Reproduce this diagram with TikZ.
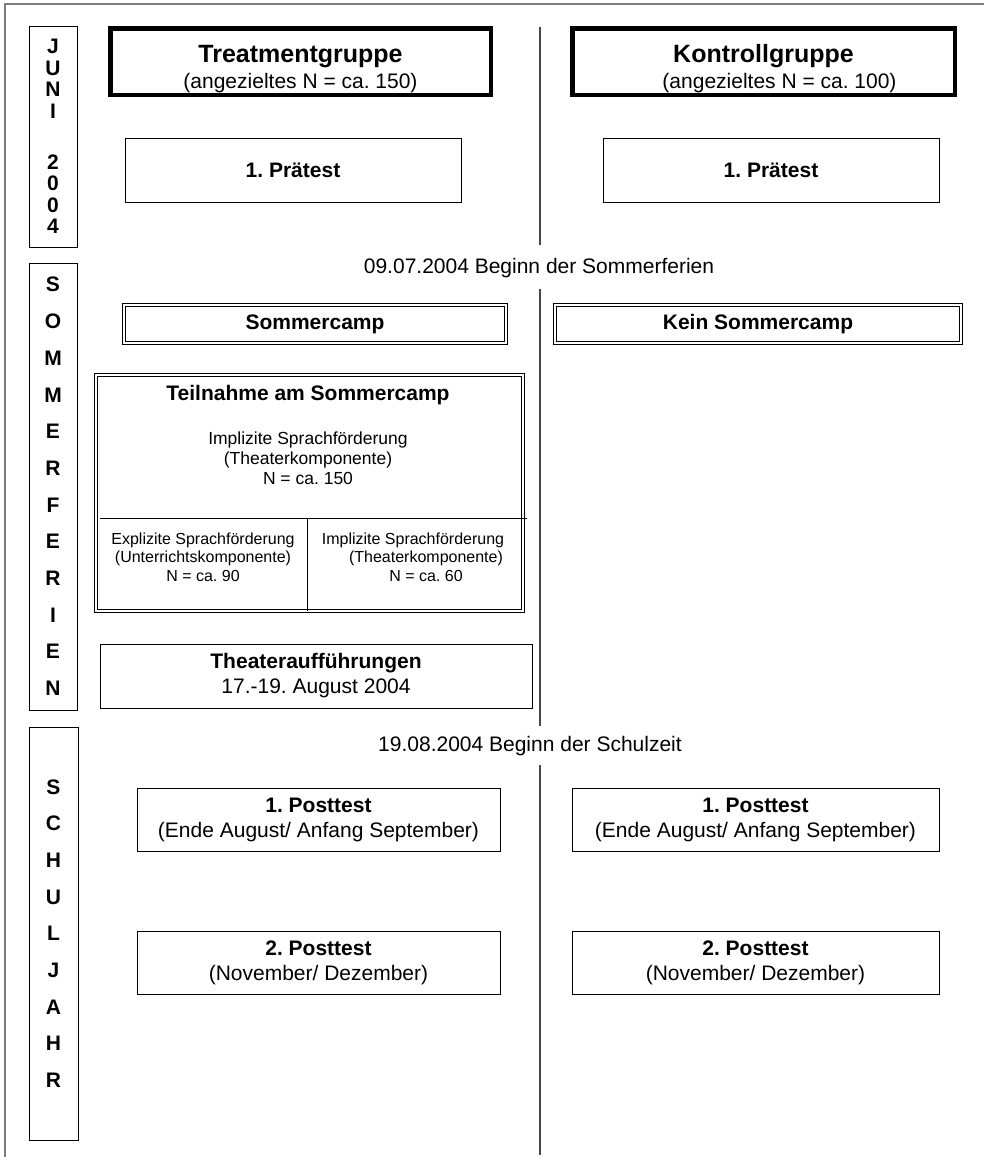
\documentclass[tikz,border=0pt]{standalone}
\usepackage{fontspec}
\setmainfont{Liberation Sans}

\begin{document}
\frenchspacing
\begin{tikzpicture}[x=1pt,y=1pt,yscale=-1,
    box/.style={draw, line width=1pt, inner sep=0pt, align=center, font=\fontsize{21}{25}\selectfont},
    thickbox/.style={box, line width=4.5pt},
    dblbox/.style={box, double, double distance=2pt, line width=0.8pt},
    monthbox/.style={box, font=\fontsize{21}{36.7}\selectfont\bfseries},
    plain/.style={inner sep=0pt, align=center, font=\fontsize{21}{25}\selectfont},
    small/.style={inner sep=0pt, align=center, font=\fontsize{17.5}{20}\selectfont},
    smaller/.style={inner sep=0pt, align=center, font=\fontsize{16}{18.5}\selectfont}]

\useasboundingbox (0,0) rectangle (984,1157);

% frame and middle line
\draw [color={rgb, 255:red, 125; green, 125; blue, 125}, line width=1.5] (5,1157) -- (5,4) -- (984,4);
\draw [color={rgb, 255:red, 70; green, 70; blue, 70}, line width=1.5] (540,27) -- (540,245);
\draw [color={rgb, 255:red, 70; green, 70; blue, 70}, line width=1.5] (540,289) -- (540,726);
\draw [color={rgb, 255:red, 70; green, 70; blue, 70}, line width=1.5] (540,765) -- (540,1155);

% time column
\node [monthbox, minimum width=48, minimum height=221, font=\fontsize{21}{21.5}\selectfont\bfseries] (juni) at (53,136.5) {J\\U\\N\\I\\[29.5pt]2\\0\\0\\4};
\node [monthbox, minimum width=48, minimum height=447] (ferien) at (53,486.5) {S\\O\\M\\M\\E\\R\\F\\E\\R\\I\\E\\N};
\node [monthbox, minimum width=49, minimum height=413] (schuljahr) at (53.5,933.5) {S\\C\\H\\U\\L\\J\\A\\H\\R};

% juni
\node [thickbox, minimum width=380.5, minimum height=66.5] (treat) at (300.5,61.5) {\rule{0pt}{32pt}{\fontsize{25}{27}\selectfont\bfseries Treatmentgruppe}\\[1pt](angezieltes N = ca. 150)};
\node [thickbox, minimum width=382.5, minimum height=66.5] (kontroll) at (763.5,61.5) {\rule{0pt}{32pt}{\fontsize{25}{27}\selectfont\bfseries Kontrollgruppe}\\[1pt]\hspace*{32pt}(angezieltes N = ca. 100)};
\node [box, minimum width=336, minimum height=64, font=\fontsize{21}{25}\selectfont\bfseries] (praetestT) at (293,170) {1. Prätest};
\node [box, minimum width=336, minimum height=64, font=\fontsize{21}{25}\selectfont\bfseries] (praetestK) at (771,170) {1. Prätest};

% sommerferien
\node [plain] (ferienstart) at (539,268) {09.07.2004 Beginn der Sommerferien};
\node [dblbox, minimum width=382.5, minimum height=38.5, font=\fontsize{21}{25}\selectfont\bfseries] (camp) at (315,324) {Sommercamp};
\node [dblbox, minimum width=406.5, minimum height=38.5, font=\fontsize{21}{25}\selectfont\bfseries] (keincamp) at (758,324) {Kein Sommercamp};
\node [dblbox, minimum width=427.5, minimum height=236.5] (teilnahme) at (309.5,493) {};
\node [plain, font=\fontsize{21}{25}\selectfont\bfseries] (teiltitel) at (308,395) {Teilnahme am Sommercamp};
\node [small] (teilgesamt) at (308,458) {Implizite Sprachförderung\\(Theaterkomponente)\\N = ca. 150};
\draw [line width=1pt] (100,518) -- (527,518);
\draw [line width=1pt] (307,518) -- (307,611);
\node [smaller] (explizit) at (203,557) {Explizite Sprachförderung\\(Unterrichtskomponente)\\N = ca. 90};
\node [smaller] (implizit) at (413,557) {Implizite Sprachförderung\\\hspace*{26pt}(Theaterkomponente)\\\hspace*{26pt}N = ca. 60};
\node [box, minimum width=432, minimum height=64] (auffuehrung) at (316,676) {{\bfseries Theateraufführungen}\\17.-19. August 2004};

% schuljahr
\node [plain] (schulstart) at (530,746) {19.08.2004 Beginn der Schulzeit};
\node [box, minimum width=363, minimum height=63] (post1T) at (318.5,819.5) {{\bfseries 1. Posttest}\\(Ende August/ Anfang September)};
\node [box, minimum width=367, minimum height=63] (post1K) at (755.5,819.5) {{\bfseries 1. Posttest}\\(Ende August/ Anfang September)};
\node [box, minimum width=363, minimum height=63] (post2T) at (318.5,962.5) {{\bfseries 2. Posttest}\\(November/ Dezember)};
\node [box, minimum width=367, minimum height=63] (post2K) at (755.5,962.5) {{\bfseries 2. Posttest}\\(November/ Dezember)};
\end{tikzpicture}
\end{document}
